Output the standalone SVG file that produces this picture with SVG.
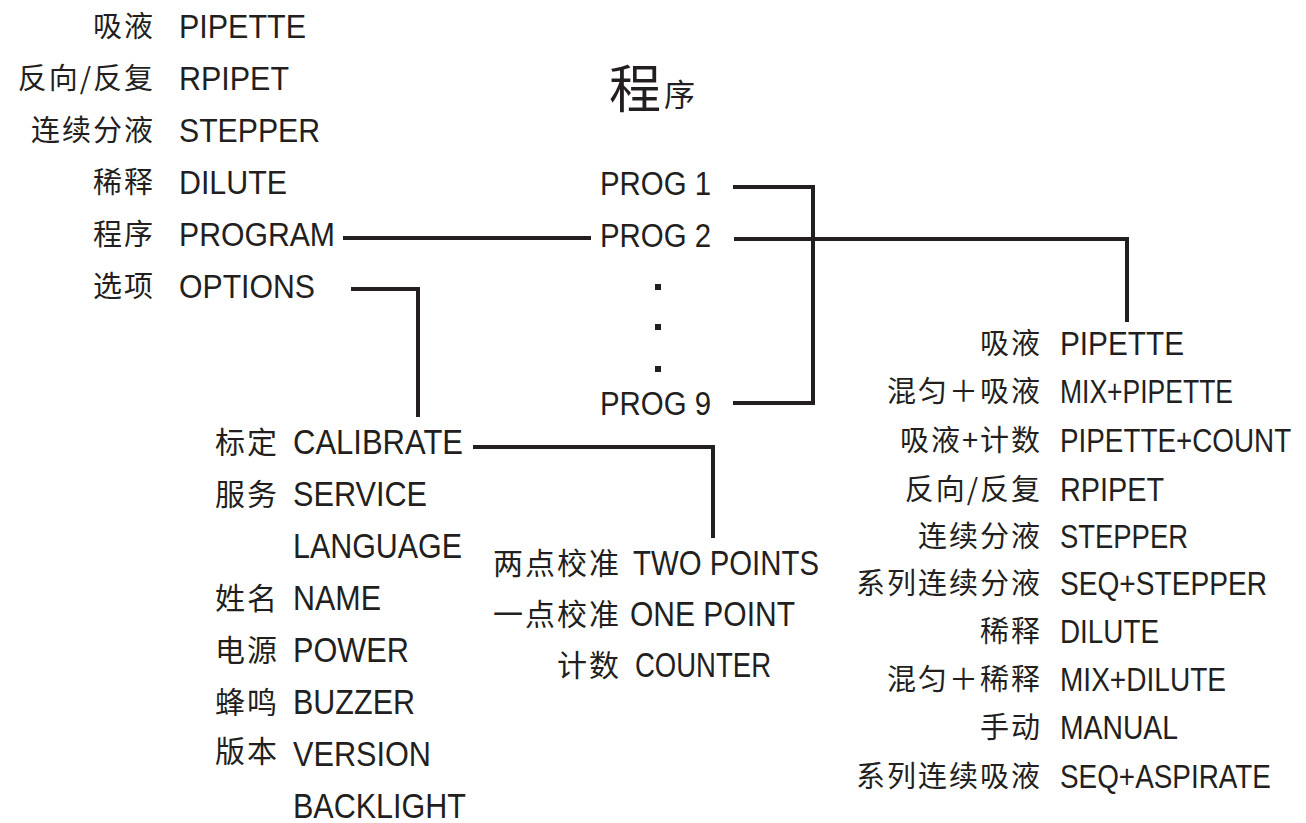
<svg xmlns="http://www.w3.org/2000/svg" width="1306" height="823" viewBox="0 0 1306 823">
<style>
.en{font-family:"Liberation Sans",Arial,sans-serif;fill:#231f20;}
.zh{font-family:"Noto Sans CJK SC",sans-serif;fill:#231f20;text-anchor:end;letter-spacing:2px;}
.s34{font-size:34px;}
.s35{font-size:35px;}
.z29{font-size:29px;}
.z30{font-size:30px;}
.ln{fill:none;stroke:#231f20;stroke-width:4;}
</style>
<rect width="1306" height="823" fill="#ffffff"/>

<g id="title">
<text x="609" y="108" style="font-family:'Noto Sans CJK SC',sans-serif;font-size:52px;fill:#231f20">程</text>
<text x="664" y="106" style="font-family:'Noto Sans CJK SC',sans-serif;font-size:31px;fill:#231f20">序</text>
</g>

<!-- main menu -->
<g id="m-pipette"><text class="zh z29" x="155" y="37">吸液</text><text class="en s34" x="179" y="38" textLength="127" lengthAdjust="spacingAndGlyphs">PIPETTE</text></g>
<g id="m-rpipet"><text class="zh z29" x="155" y="89">反向/反复</text><text class="en s34" x="179" y="90" textLength="110" lengthAdjust="spacingAndGlyphs">RPIPET</text></g>
<g id="m-stepper"><text class="zh z29" x="155" y="141">连续分液</text><text class="en s34" x="179" y="142" textLength="141" lengthAdjust="spacingAndGlyphs">STEPPER</text></g>
<g id="m-dilute"><text class="zh z29" x="155" y="193">稀释</text><text class="en s34" x="179" y="194" textLength="108" lengthAdjust="spacingAndGlyphs">DILUTE</text></g>
<g id="m-program"><text class="zh z29" x="155" y="245">程序</text><text class="en s34" x="179" y="246" textLength="156" lengthAdjust="spacingAndGlyphs">PROGRAM</text></g>
<g id="m-options"><text class="zh z29" x="155" y="297">选项</text><text class="en s34" x="179" y="298" textLength="136" lengthAdjust="spacingAndGlyphs">OPTIONS</text></g>

<!-- programs -->
<g id="prog1"><text class="en s34" x="600" y="195" textLength="111" lengthAdjust="spacingAndGlyphs">PROG 1</text></g>
<g id="prog2"><text class="en s34" x="600" y="247" textLength="111" lengthAdjust="spacingAndGlyphs">PROG 2</text></g>
<g id="prog-dots">
<rect x="655" y="284" width="6" height="6" fill="#231f20"/>
<rect x="655" y="324" width="6" height="6" fill="#231f20"/>
<rect x="655" y="366" width="6" height="6" fill="#231f20"/>
</g>
<g id="prog9"><text class="en s34" x="600" y="415" textLength="111" lengthAdjust="spacingAndGlyphs">PROG 9</text></g>

<!-- options submenu -->
<g id="o-calibrate"><text class="zh z30" x="279" y="453">标定</text><text class="en s35" x="293" y="454" textLength="170" lengthAdjust="spacingAndGlyphs">CALIBRATE</text></g>
<g id="o-service"><text class="zh z30" x="279" y="505">服务</text><text class="en s35" x="293" y="506" textLength="134" lengthAdjust="spacingAndGlyphs">SERVICE</text></g>
<g id="o-language"><text class="en s35" x="293" y="558" textLength="169" lengthAdjust="spacingAndGlyphs">LANGUAGE</text></g>
<g id="o-name"><text class="zh z30" x="279" y="609">姓名</text><text class="en s35" x="293" y="610" textLength="88" lengthAdjust="spacingAndGlyphs">NAME</text></g>
<g id="o-power"><text class="zh z30" x="279" y="661">电源</text><text class="en s35" x="293" y="662" textLength="116" lengthAdjust="spacingAndGlyphs">POWER</text></g>
<g id="o-buzzer"><text class="zh z30" x="279" y="713">蜂鸣</text><text class="en s35" x="293" y="714" textLength="122" lengthAdjust="spacingAndGlyphs">BUZZER</text></g>
<g id="o-version"><text class="zh z30" x="279" y="762">版本</text><text class="en s35" x="293" y="766" textLength="138" lengthAdjust="spacingAndGlyphs">VERSION</text></g>
<g id="o-backlight"><text class="en s35" x="293" y="818" textLength="173" lengthAdjust="spacingAndGlyphs">BACKLIGHT</text></g>

<!-- calibrate submenu -->
<g id="c-two"><text class="zh z30" x="621" y="574">两点校准</text><text class="en s35" x="633" y="575" textLength="186" lengthAdjust="spacingAndGlyphs">TWO POINTS</text></g>
<g id="c-one"><text class="zh z30" x="621" y="625">一点校准</text><text class="en s35" x="630" y="626" textLength="165" lengthAdjust="spacingAndGlyphs">ONE POINT</text></g>
<g id="c-counter"><text class="zh z30" x="621" y="676">计数</text><text class="en s35" x="635" y="677" textLength="136" lengthAdjust="spacingAndGlyphs">COUNTER</text></g>

<!-- program step modes -->
<g id="p-pipette"><text class="zh z29" x="1042" y="354">吸液</text><text class="en s34" x="1060" y="355" textLength="124" lengthAdjust="spacingAndGlyphs">PIPETTE</text></g>
<g id="p-mixpipette"><text class="zh z29" x="1042" y="402">混匀＋吸液</text><text class="en s34" x="1060" y="403" textLength="173" lengthAdjust="spacingAndGlyphs">MIX+PIPETTE</text></g>
<g id="p-pipettecount"><text class="zh z29" x="1042" y="451">吸液+计数</text><text class="en s34" transform="translate(1060 452) scale(0.819 1)" x="0" y="0">PIPETTE+COUNT</text></g>
<g id="p-rpipet"><text class="zh z29" x="1042" y="500">反向/反复</text><text class="en s34" x="1060" y="501" textLength="104" lengthAdjust="spacingAndGlyphs">RPIPET</text></g>
<g id="p-stepper"><text class="zh z29" x="1042" y="547">连续分液</text><text class="en s34" x="1060" y="548" textLength="128" lengthAdjust="spacingAndGlyphs">STEPPER</text></g>
<g id="p-seqstepper"><text class="zh z29" x="1042" y="594">系列连续分液</text><text class="en s34" transform="translate(1060 595) scale(0.827 1)" x="0" y="0">SEQ+STEPPER</text></g>
<g id="p-dilute"><text class="zh z29" x="1042" y="642">稀释</text><text class="en s34" x="1060" y="643" textLength="99" lengthAdjust="spacingAndGlyphs">DILUTE</text></g>
<g id="p-mixdilute"><text class="zh z29" x="1042" y="690">混匀＋稀释</text><text class="en s34" x="1060" y="691" textLength="166" lengthAdjust="spacingAndGlyphs">MIX+DILUTE</text></g>
<g id="p-manual"><text class="zh z29" x="1042" y="738">手动</text><text class="en s34" x="1060" y="739" textLength="118" lengthAdjust="spacingAndGlyphs">MANUAL</text></g>
<g id="p-seqaspirate"><text class="zh z29" x="1042" y="787">系列连续吸液</text><text class="en s34" transform="translate(1060 788) scale(0.82 1)" x="0" y="0">SEQ+ASPIRATE</text></g>

<g id="connectors">
<path class="ln" d="M343 238H591"/>
<path class="ln" d="M351 289H418V417"/>
<path class="ln" d="M473 447H713V538"/>
<path class="ln" d="M733 187H813V403H733"/>
<path class="ln" d="M734 239H1127V322"/>
</g>
</svg>
